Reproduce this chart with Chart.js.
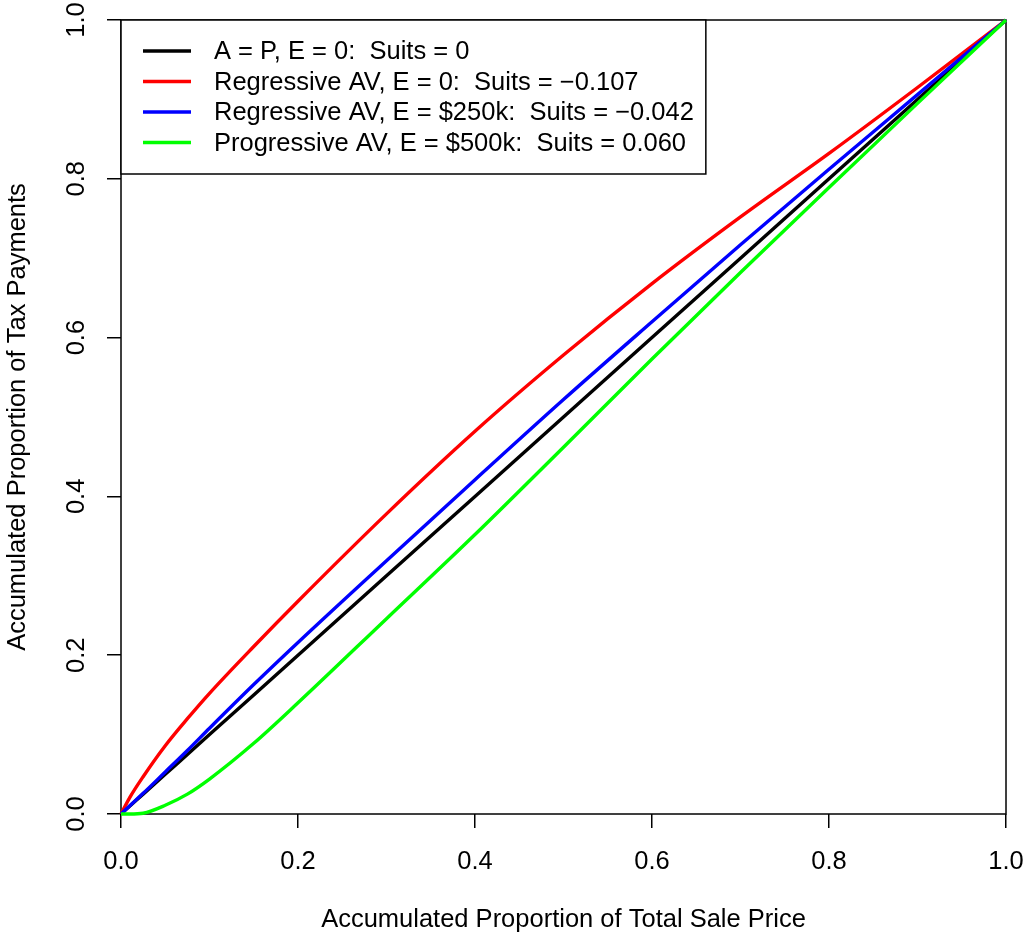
<!DOCTYPE html>
<html>
<head>
<meta charset="utf-8">
<title>Suits index curves</title>
<script src="https://cdn.jsdelivr.net/npm/chart.js@4.4.1/dist/chart.umd.min.js"></script>
<style>
  html, body { margin: 0; padding: 0; background: #fff; }
  #wrap { width: 1024px; height: 936px; }
</style>
</head>
<body>
<div id="wrap"><canvas id="c" width="1024" height="936"></canvas></div>
<script>
// Accumulated proportion of total sale price (x positions shared by all curves)
const propSale = [0, 0.01, 0.025, 0.05, 0.075, 0.1, 0.15, 0.2, 0.3, 0.4, 0.5, 0.6, 0.7, 0.8, 0.9, 1];

// Accumulated proportion of tax payments for each scenario
const taxEqual       = [0, 0.01, 0.025, 0.05, 0.075, 0.1, 0.15, 0.2, 0.3, 0.4, 0.5, 0.6, 0.7, 0.8, 0.9, 1];
const taxRegressive0 = [0, 0.021, 0.047, 0.086, 0.12, 0.152, 0.211, 0.268, 0.378, 0.482, 0.578, 0.668, 0.752, 0.832, 0.915, 1];
const taxRegressive250 = [0, 0.0105, 0.026, 0.053, 0.08, 0.108, 0.163, 0.216, 0.319, 0.421, 0.522, 0.62, 0.717, 0.812, 0.906, 1];
const taxProgressive500 = [0, 0, 0.001, 0.011, 0.025, 0.044, 0.089, 0.14, 0.246, 0.352, 0.462, 0.573, 0.682, 0.789, 0.895, 1];

const seriesLabels = [
  'A = P, E = 0:  Suits = 0',
  'Regressive AV, E = 0:  Suits = \u22120.107',
  'Regressive AV, E = $250k:  Suits = \u22120.042',
  'Progressive AV, E = $500k:  Suits = 0.060'
];
const seriesColors = ['#000000', '#ff0000', '#0000ff', '#00ff00'];
const seriesValues = [taxEqual, taxRegressive0, taxRegressive250, taxProgressive500];

const axisTicks = [0, 0.2, 0.4, 0.6, 0.8, 1.0];

const FONT = '"Liberation Sans", Arial, Helvetica, sans-serif';
const FSIZE = 25.5;

const datasets = seriesValues.map((vals, i) => ({
  label: seriesLabels[i],
  data: vals.map((v, j) => ({ x: propSale[j], y: v })),
  borderColor: seriesColors[i],
  backgroundColor: seriesColors[i],
  borderWidth: 3.4,
  pointRadius: 0,
  fill: false,
  cubicInterpolationMode: 'monotone',
  clip: false,
  // later series are painted above earlier ones
  order: seriesValues.length - i
}));

// Frame around the plotting region
const boxPlugin = {
  id: 'plotBox',
  beforeDatasetsDraw(chart) {
    const { ctx, chartArea: a } = chart;
    ctx.save();
    ctx.strokeStyle = '#000';
    ctx.lineWidth = 1.5;
    ctx.strokeRect(a.left, a.top, a.right - a.left, a.bottom - a.top);
    ctx.restore();
  }
};

// Boxed key in the top-left corner of the plotting region
const keyPlugin = {
  id: 'cornerKey',
  afterDatasetsDraw(chart) {
    const { ctx, chartArea: a } = chart;
    const ds = chart.data.datasets;
    ctx.save();
    ctx.font = FSIZE + 'px ' + FONT;
    let maxW = 0;
    ds.forEach(d => { maxW = Math.max(maxW, ctx.measureText(d.label).width); });
    const x0 = a.left, y0 = a.top;
    const textX = x0 + 93;
    const w = textX - x0 + maxW + 12;
    const h = 154;
    ctx.fillStyle = '#fff';
    ctx.fillRect(x0, y0, w, h);
    ctx.strokeStyle = '#000';
    ctx.lineWidth = 1.5;
    ctx.strokeRect(x0, y0, w, h);
    const rowY = [31, 61.5, 92, 122.5];
    ds.forEach((d, i) => {
      const y = y0 + rowY[i];
      ctx.strokeStyle = d.borderColor;
      ctx.lineWidth = 3.4;
      ctx.beginPath();
      ctx.moveTo(x0 + 22, y);
      ctx.lineTo(x0 + 70, y);
      ctx.stroke();
      ctx.fillStyle = '#000';
      ctx.textAlign = 'left';
      ctx.textBaseline = 'middle';
      ctx.fillText(d.label, textX, y + 1);
    });
    ctx.restore();
  }
};

// Fixed axis band sizes with no extra room reserved for overhanging labels
function fixBand(prop, size) {
  return s => {
    s[prop] = size;
    s.paddingLeft = 0; s.paddingRight = 0; s.paddingTop = 0; s.paddingBottom = 0;
  };
}

const tickFont = { family: FONT, size: FSIZE };

new Chart(document.getElementById('c'), {
  type: 'line',
  data: { datasets },
  options: {
    responsive: false,
    animation: false,
    events: [],
    layout: { padding: { top: 20, right: 18, left: 0, bottom: 0 } },
    plugins: { legend: { display: false }, tooltip: { enabled: false } },
    scales: {
      x: {
        type: 'linear',
        min: 0,
        max: 1,
        afterFit: fixBand('height', 122),
        afterBuildTicks(s) { s.ticks = axisTicks.map(v => ({ value: v })); },
        border: { display: false },
        grid: { drawOnChartArea: false, drawTicks: true, tickLength: 14, color: '#000', lineWidth: 1.5 },
        ticks: {
          color: '#000',
          font: tickFont,
          padding: 19,
          maxRotation: 0,
          autoSkip: false,
          callback: v => Number(v).toFixed(1)
        },
        title: {
          display: true,
          text: 'Accumulated Proportion of Total Sale Price',
          color: '#000',
          font: tickFont,
          padding: { top: 0, bottom: 1 }
        }
      },
      y: {
        type: 'linear',
        min: 0,
        max: 1,
        afterFit: fixBand('width', 121),
        afterBuildTicks(s) { s.ticks = axisTicks.map(v => ({ value: v })); },
        border: { display: false },
        grid: { drawOnChartArea: false, drawTicks: true, tickLength: 14, color: '#000', lineWidth: 1.5 },
        ticks: {
          color: '#000',
          font: tickFont,
          padding: 12,
          minRotation: 90,
          maxRotation: 90,
          crossAlign: 'center',
          autoSkip: false,
          callback: v => Number(v).toFixed(1)
        },
        title: {
          display: true,
          text: 'Accumulated Proportion of Tax Payments',
          color: '#000',
          font: tickFont,
          padding: { top: 3, bottom: 0 }
        }
      }
    }
  },
  plugins: [boxPlugin, keyPlugin]
});
</script>
</body>
</html>
